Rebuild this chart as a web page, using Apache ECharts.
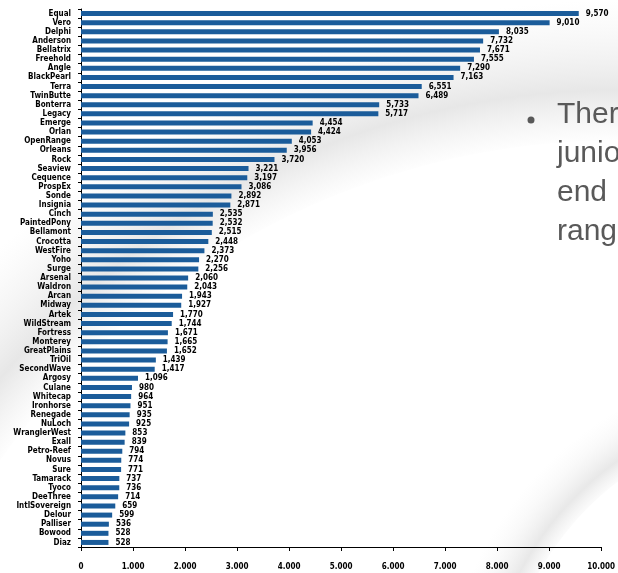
<!DOCTYPE html>
<html>
<head>
<meta charset="utf-8">
<script src="https://cdn.jsdelivr.net/npm/echarts@6/dist/echarts.min.js"></script>
<style>
html,body{margin:0;padding:0;background:#fff;}
#c{width:618px;height:573px;}
</style>
</head>
<body>
<div id="c"></div>
<script>
const categories = ["Equal","Vero","Delphi","Anderson","Bellatrix","Freehold","Angle","BlackPearl","Terra","TwinButte",
"Bonterra","Legacy","Emerge","Orlan","OpenRange","Orleans","Rock","Seaview","Cequence","ProspEx",
"Sonde","Insignia","Cinch","PaintedPony","Bellamont","Crocotta","WestFire","Yoho","Surge","Arsenal",
"Waldron","Arcan","Midway","Artek","WildStream","Fortress","Monterey","GreatPlains","TriOil","SecondWave",
"Argosy","Culane","Whitecap","Ironhorse","Renegade","NuLoch","WranglerWest","Exall","Petro-Reef","Novus",
"Sure","Tamarack","Tyoco","DeeThree","IntlSovereign","Delour","Palliser","Bowood","Diaz"];
const values = [9570,9010,8035,7732,7671,7555,7290,7163,6551,6489,
5733,5717,4454,4424,4053,3956,3720,3221,3197,3086,
2892,2871,2535,2532,2515,2448,2373,2270,2256,2060,
2043,1943,1927,1770,1744,1671,1665,1652,1439,1417,
1096,980,964,951,935,925,853,839,794,774,
771,737,736,714,659,599,536,528,528];
const xTicks = ["0","1.000","2.000","3.000","4.000","5.000","6.000","7.000","8.000","9.000","10.000"];
const slideLines = ["There are", "junior", "end", "range"];

const chart = echarts.init(document.getElementById('c'), null, {renderer:'canvas'});
const lblFont = {fontFamily:'DejaVu Sans Condensed', fontWeight:'bold', fontSize:8, color:'#000'};

const bg = [
  {type:'ring', shape:{cx:620, cy:900, r:900, r0:760}, style:{fill:new echarts.graphic.RadialGradient(0.5,0.5,0.5,[{offset:0.84,color:'rgba(225,225,225,0)'},{offset:0.9,color:'rgba(215,215,215,0.6)'},{offset:0.96,color:'rgba(235,235,235,0.35)'},{offset:1,color:'rgba(240,240,240,0)'}])}, z:-10, silent:true},
  {type:'ring', shape:{cx:800, cy:720, r:360, r0:300}, style:{fill:new echarts.graphic.RadialGradient(0.5,0.5,0.5,[{offset:0.82,color:'rgba(230,230,230,0)'},{offset:0.88,color:'rgba(220,220,220,0.65)'},{offset:0.95,color:'rgba(240,240,240,0.35)'},{offset:1,color:'rgba(245,245,245,0)'}])}, z:-10, silent:true}
];
const slideTexts = slideLines.map((t,i)=>({
  type:'text', left:557, top:100 + i*39, silent:true, z:5,
  style:{text:t, fill:'#595959', font:'30px "Liberation Sans", Arial, sans-serif'}
}));
slideTexts.push({type:'circle', shape:{cx:531, cy:120, r:3.5}, style:{fill:'#595959'}, silent:true, z:5});

chart.setOption({
  animation:false,
  backgroundColor:'#ffffff',
  graphic: bg.concat(slideTexts),
  grid:{left:81, right:14, top:9, bottom:26, containLabel:false},
  xAxis:{
    type:'value', min:0, max:10000, interval:1000,
    axisLine:{show:true, lineStyle:{color:'#000', width:1}},
    axisTick:{show:true, length:4, lineStyle:{color:'#000'}},
    splitLine:{show:false},
    axisLabel:Object.assign({margin:16, formatter:(v)=>xTicks[Math.round(v/1000)]}, lblFont)
  },
  yAxis:{
    type:'category', data:categories, inverse:true,
    axisLine:{show:true, lineStyle:{color:'#000', width:1}},
    axisTick:{show:true, length:3, lineStyle:{color:'#000'}},
    axisLabel:Object.assign({margin:10, interval:0}, lblFont)
  },
  series:[{
    type:'bar', data:values, barWidth:5,
    itemStyle:{color:'#1b5c9a'},
    label:Object.assign({show:true, position:'right', distance:7,
      formatter:(p)=>p.value.toLocaleString('en-US')}, lblFont)
  }]
});
</script>
</body>
</html>
